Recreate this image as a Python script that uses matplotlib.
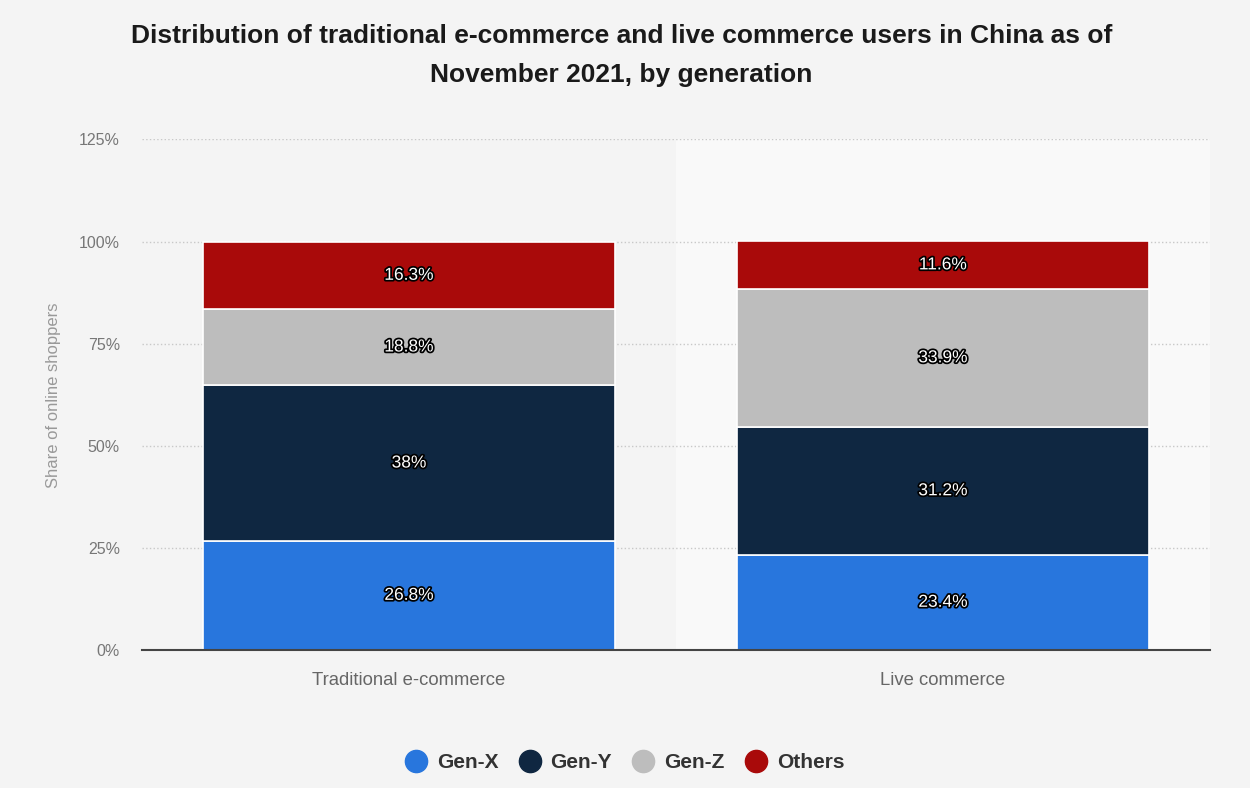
import matplotlib.pyplot as plt
import matplotlib.patheffects as pe
from matplotlib.lines import Line2D
import numpy as np

plt.rcParams['font.family'] = ['Liberation Sans', 'DejaVu Sans']

categories = ['Traditional e-commerce', 'Live commerce']
generations = ['Gen-X', 'Gen-Y', 'Gen-Z', 'Others']
gen_x = [26.8, 23.4]
gen_y = [38, 31.2]
gen_z = [18.8, 33.9]
others = [16.3, 11.6]
colors = ['#2876dd', '#0f2741', '#bdbdbd', '#a90a0a']

series = [gen_x, gen_y, gen_z, others]

fig = plt.figure(figsize=(12.5, 7.88), dpi=100)
fig.patch.set_facecolor('#f4f4f4')
ax = fig.add_axes([0.1136, 0.175, 0.8544, 0.648])
ax.set_facecolor('#f4f4f4')

x = np.arange(len(categories))
# lighter band behind the second category
ax.axvspan(0.5, 1.5, color='#f9f9f9', zorder=0)

bottom = np.zeros(len(categories))
for name, vals, col in zip(generations, series, colors):
    ax.bar(x, vals, bottom=bottom, width=0.77, color=col, edgecolor='white',
           linewidth=1.2, zorder=3, label=name)
    for xi, b, v in zip(x, bottom, vals):
        ax.text(xi, b + v / 2, f'{v:g}%', ha='center', va='center', fontsize=12.5,
                color='white', zorder=4,
                path_effects=[pe.withStroke(linewidth=2.5, foreground='black')])
    bottom += np.array(vals)

ax.set_xlim(-0.5, 1.5)
ax.set_ylim(0, 125)
ax.set_yticks([0, 25, 50, 75, 100, 125])
ax.set_yticklabels(['0%', '25%', '50%', '75%', '100%', '125%'])
ax.set_xticks(x)
ax.set_xticklabels(categories)
ax.tick_params(axis='y', length=0, labelsize=11.5, labelcolor='#777777', pad=16)
ax.tick_params(axis='x', length=0, labelsize=13.3, labelcolor='#666666', pad=16)
ax.grid(axis='y', linestyle=':', color='#c8c8c8', linewidth=1, zorder=1)
for side in ['top', 'right', 'left']:
    ax.spines[side].set_visible(False)
ax.spines['bottom'].set_color('#444444')
ax.spines['bottom'].set_linewidth(1.5)
ax.spines['bottom'].set_zorder(5)
ax.set_ylabel('Share of online shoppers', fontsize=12, color='#999999')
ax.yaxis.set_label_coords(-0.076, 0.5)

fig.text(0.497, 0.93, 'Distribution of traditional e-commerce and live commerce users in China as of\nNovember 2021, by generation',
         ha='center', va='center', fontsize=19, fontweight='bold', color='#1a1a1a',
         linespacing=1.8)

handles = [Line2D([0], [0], marker='o', linestyle='', markersize=16,
                  markerfacecolor=c, markeredgecolor=c) for c in colors]
leg = fig.legend(handles, generations, loc='center', bbox_to_anchor=(0.5, 0.032),
                 ncol=4, frameon=False, handlelength=1.0, handletextpad=0.5,
                 columnspacing=1.0, prop={'weight': 'bold', 'size': 15})
for t in leg.get_texts():
    t.set_color('#333333')

fig.savefig('out.png', dpi=100, facecolor=fig.get_facecolor())
